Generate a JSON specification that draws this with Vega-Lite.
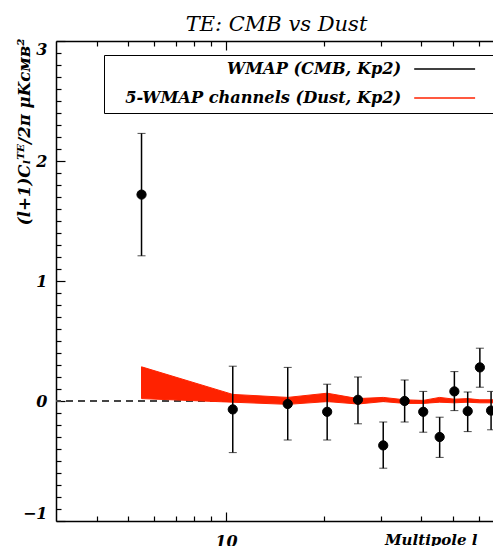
{
  "$schema": "https://vega.github.io/schema/vega-lite/v6.json",
  "width": 437,
  "height": 480,
  "autosize": {"type": "none"},
  "padding": {"left": 56, "top": 41, "right": 0, "bottom": 25},
  "background": "white",
  "config": {
    "view": {"stroke": null},
    "font": "DejaVu Serif",
    "axis": {
      "domainColor": "black", "domainWidth": 1.5, "tickColor": "black", "tickWidth": 1.2,
      "grid": false, "labelColor": "black", "titleColor": "black",
      "labelFont": "DejaVu Serif", "labelFontStyle": "italic", "labelFontWeight": "bold", "labelFontSize": 16,
      "titleFont": "DejaVu Serif", "titleFontStyle": "italic", "titleFontWeight": "bold", "titleFontSize": 15
    }
  },
  "title": {
    "text": "TE: CMB vs Dust", "font": "DejaVu Serif", "fontStyle": "italic", "fontWeight": "normal",
    "fontSize": 21, "anchor": "middle", "frame": "group", "dx": 2, "dy": 25, "offset": 11, "baseline": "alphabetic", "color": "black"
  },
  "datasets": {
    "wmap": [
      {"l": 5.5, "cl": 1.72, "lo": 1.21, "hi": 2.23},
      {"l": 10.5, "cl": -0.07, "lo": -0.43, "hi": 0.29},
      {"l": 15.5, "cl": -0.025, "lo": -0.325, "hi": 0.28},
      {"l": 20.5, "cl": -0.09, "lo": -0.325, "hi": 0.14},
      {"l": 25.5, "cl": 0.01, "lo": -0.19, "hi": 0.2},
      {"l": 30.5, "cl": -0.37, "lo": -0.56, "hi": -0.175},
      {"l": 35.5, "cl": 0.0, "lo": -0.175, "hi": 0.175},
      {"l": 40.5, "cl": -0.09, "lo": -0.26, "hi": 0.08},
      {"l": 45.5, "cl": -0.3, "lo": -0.47, "hi": -0.135},
      {"l": 50.5, "cl": 0.08, "lo": -0.08, "hi": 0.245},
      {"l": 55.5, "cl": -0.085, "lo": -0.255, "hi": 0.075},
      {"l": 60.5, "cl": 0.28, "lo": 0.115, "hi": 0.44},
      {"l": 65.5, "cl": -0.08, "lo": -0.24, "hi": 0.08}
    ],
    "dust": [
      {"l": 5.5, "top": 0.285, "bottom": 0.02},
      {"l": 10.5, "top": 0.055, "bottom": -0.01},
      {"l": 15.5, "top": 0.03, "bottom": -0.028},
      {"l": 20.5, "top": 0.065, "bottom": -0.005},
      {"l": 25.5, "top": 0.02, "bottom": -0.025},
      {"l": 30.5, "top": 0.03, "bottom": -0.005},
      {"l": 35.5, "top": 0.01, "bottom": -0.02},
      {"l": 40.5, "top": 0.005, "bottom": -0.02},
      {"l": 45.5, "top": 0.03, "bottom": -0.01},
      {"l": 50.5, "top": 0.015, "bottom": -0.015},
      {"l": 55.5, "top": 0.02, "bottom": -0.01},
      {"l": 60.5, "top": 0.01, "bottom": -0.015},
      {"l": 65.5, "top": 0.01, "bottom": -0.015},
      {"l": 66.4, "top": 0.01, "bottom": -0.015}
    ]
  },
  "resolve": {"axis": {"x": "independent", "y": "independent"}},
  "layer": [
    {
      "data": {"name": "dust"},
      "mark": {"type": "rule", "strokeDash": [7, 5], "color": "#444444", "strokeWidth": 1.5},
      "encoding": {
        "y": {"datum": 0, "type": "quantitative", "scale": {"domain": [-1, 3], "nice": false, "zero": false}, "axis": null}
      }
    },
    {
      "data": {"name": "dust"},
      "mark": {"type": "area", "fill": "#ff2200", "fillOpacity": 1, "strokeWidth": 1},
      "encoding": {
        "x": {
          "field": "l", "type": "quantitative",
          "scale": {"type": "log", "domain": [3, 66.4], "nice": false},
          "axis": {
            "orient": "bottom", "title": "Multipole l",
            "values": [4, 5, 6, 7, 8, 9, 10, 20, 30, 40, 50, 60],
            "tickSize": {"condition": {"test": "datum.value == 10", "value": -9}, "value": -5},
            "labelExpr": "datum.value == 10 ? '10' : ''",
            "labelPadding": 21, "labelFlush": false, "labelOverlap": false,
            "titleX": 421, "titleY": 11, "titleAlign": "right", "titleBaseline": "top", "titleAnchor": null
          }
        },
        "y": {
          "field": "top", "type": "quantitative",
          "scale": {"domain": [-1, 3], "nice": false, "zero": false},
          "axis": {
            "orient": "left",
            "title": "(l+1)Cₗᵀᴱ/2π  μKᴄᴍʙ²",
            "values": [-1, -0.9, -0.8, -0.7, -0.6, -0.5, -0.4, -0.3, -0.2, -0.1, 0, 0.1, 0.2, 0.3, 0.4, 0.5, 0.6, 0.7, 0.8, 0.9, 1, 1.1, 1.2, 1.3, 1.4, 1.5, 1.6, 1.7, 1.8, 1.9, 2, 2.1, 2.2, 2.3, 2.4, 2.5, 2.6, 2.7, 2.8, 2.9, 3],
            "tickSize": {"condition": {"test": "abs(datum.value - round(datum.value)) < 0.001", "value": -9}, "value": -5},
            "labelExpr": "abs(datum.value - round(datum.value)) < 0.001 ? format(datum.value, 'd') : ''",
            "labelPadding": 18, "labelFlush": true, "labelOverlap": false,
            "titleFontSize": 16.6,
            "titleAngle": -90, "titleX": -32, "titleY": -3, "titleAlign": "right", "titleBaseline": "middle"
          }
        },
        "y2": {"field": "bottom"},
        "stroke": {
          "datum": "5-WMAP channels (Dust, Kp2)",
          "scale": {"domain": ["WMAP (CMB, Kp2)", "5-WMAP channels (Dust, Kp2)"], "range": ["black", "#ff2200"]},
          "legend": {
            "orient": "none", "legendX": 48, "legendY": 14, "title": null,
            "symbolType": "M42.3,0H51M52.6,0", "symbolSize": 196, "symbolStrokeWidth": 1.5,
            "labelAlign": "right", "labelOffset": 275, "labelLimit": 0,
            "labelFont": "DejaVu Serif", "labelFontStyle": "italic", "labelFontWeight": "bold", "labelFontSize": 16.2, "labelColor": "black",
            "rowPadding": 12, "padding": 6, "strokeColor": "black", "fillColor": "white"
          }
        }
      }
    },
    {
      "data": {"name": "wmap"},
      "mark": {"type": "errorbar", "ticks": {"size": 8, "color": "black", "strokeWidth": 1.5}, "rule": {"color": "black", "strokeWidth": 1.5}},
      "encoding": {
        "x": {"field": "l", "type": "quantitative", "scale": {"type": "log", "domain": [3, 66.4], "nice": false}, "axis": null},
        "y": {"field": "lo", "type": "quantitative", "scale": {"domain": [-1, 3], "nice": false, "zero": false}, "axis": null},
        "y2": {"field": "hi"}
      }
    },
    {
      "data": {"name": "wmap"},
      "mark": {"type": "circle", "size": 85, "opacity": 1, "fill": "black", "fillOpacity": 1, "strokeWidth": 1},
      "encoding": {
        "x": {
          "field": "l", "type": "quantitative", "scale": {"type": "log", "domain": [3, 66.4], "nice": false},
          "axis": {
            "orient": "top", "title": null,
            "values": [4, 5, 6, 7, 8, 9, 10, 20, 30, 40, 50, 60],
            "tickSize": {"condition": {"test": "datum.value == 10", "value": -9}, "value": -5},
            "labels": false
          }
        },
        "y": {"field": "cl", "type": "quantitative", "scale": {"domain": [-1, 3], "nice": false, "zero": false}, "axis": null},
        "stroke": {
          "datum": "WMAP (CMB, Kp2)",
          "legend": {
            "orient": "none", "legendX": 48, "legendY": 14, "title": null,
            "symbolType": "M42.3,0H51M52.6,0", "symbolSize": 196, "symbolStrokeWidth": 1.5,
            "labelAlign": "right", "labelOffset": 275, "labelLimit": 0,
            "labelFont": "DejaVu Serif", "labelFontStyle": "italic", "labelFontWeight": "bold", "labelFontSize": 16.2, "labelColor": "black",
            "rowPadding": 12, "padding": 6, "strokeColor": "black", "fillColor": "white"
          }
        }
      }
    }
  ]
}
